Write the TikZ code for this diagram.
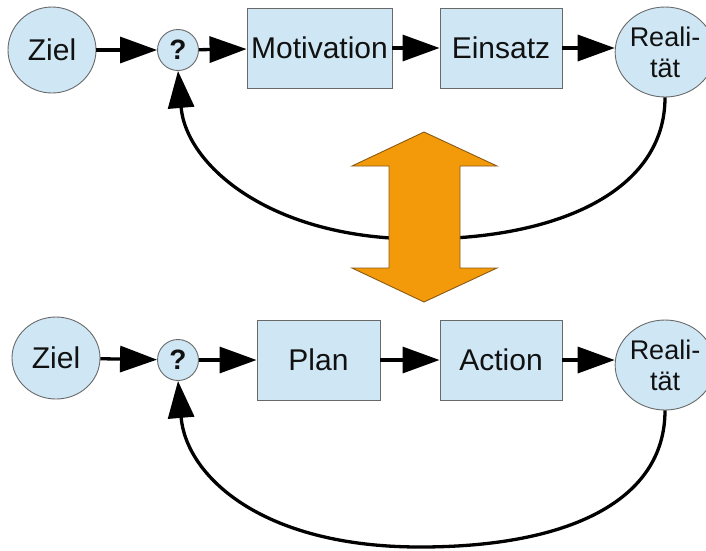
\documentclass[tikz,border=0pt]{standalone}
\usepackage{fontspec}
\setmainfont{Liberation Sans}
\usetikzlibrary{arrows.meta,shapes.geometric}
\definecolor{boxfill}{RGB}{207,231,245}
\definecolor{boxline}{RGB}{105,105,105}
\definecolor{orangefill}{RGB}{243,154,11}
\definecolor{orangeline}{RGB}{138,90,20}
\definecolor{inkblack}{RGB}{17,17,17}
\tikzset{
  x=1pt, y=-1pt,
  base/.style={fill=boxfill, draw=boxline, line width=0.9pt, text=inkblack, inner sep=0pt},
  oval/.style={base, ellipse},
  stepbox/.style={base, rectangle, minimum height=80pt},
  bigtxt/.style={font=\fontsize{30}{36}\selectfont},
  realtxt/.style={font=\fontsize{27}{31}\selectfont, align=center},
  qtxt/.style={font=\fontsize{28}{32}\selectfont\bfseries},
  flow/.style={line width=3.3pt, draw=black, -{Triangle[length=37pt,width=26pt]}},
}
\begin{document}
\begin{tikzpicture}
\useasboundingbox (0,0) rectangle (706,550);
% ---------- top row ----------
\node[oval, bigtxt, minimum width=88pt, minimum height=86pt] (z1) at (52,50) {Ziel};
\node[oval, qtxt, minimum width=41pt, minimum height=41pt] (q1) at (178,50) {?};
\node[stepbox, bigtxt, minimum width=145pt] (m1) at (319.5,48) {Motivation};
\node[stepbox, bigtxt, minimum width=122pt] (e1) at (501,48) {Einsatz};
\node[oval, realtxt, minimum width=87pt, minimum height=90pt] (r1) at (665,52) {Reali-\\tät};
\draw[flow] (z1) -- (q1);
\draw[flow] (q1) -- (m1);
\draw[flow] (m1) -- (e1);
\draw[flow] (e1.east) -- (r1.west |- e1.east);
\coordinate (b1) at (420,239);
\draw[flow] (r1.south) .. controls (665,190) and (560,239) .. (b1)
   .. controls (270,239) and (186,165) .. (q1.south);
% ---------- orange double arrow ----------
\fill[orangefill, draw=orangeline, line width=0.9pt, line join=miter]
  (424,132) -- (497,166) -- (460,166) -- (460,268) -- (497,268) -- (424,302)
  -- (352,268) -- (389,268) -- (389,166) -- (352,166) -- cycle;
% ---------- bottom row ----------
\node[oval, bigtxt, minimum width=88pt, minimum height=82pt] (z2) at (56,358) {Ziel};
\node[oval, qtxt, minimum width=41pt, minimum height=41pt] (q2) at (178,360) {?};
\node[stepbox, bigtxt, minimum width=123pt] (p2) at (318.5,360) {Plan};
\node[stepbox, bigtxt, minimum width=122pt] (a2) at (501,360) {Action};
\node[oval, realtxt, minimum width=87pt, minimum height=90pt] (r2) at (665,365) {Reali-\\tät};
\draw[flow] (z2) -- (q2);
\draw[flow] (q2) -- (p2);
\draw[flow] (p2) -- (a2);
\draw[flow] (a2.east) -- (r2.west |- a2.east);
\coordinate (b2) at (420,547);
\draw[flow] (r2.south) .. controls (665,500) and (570,547) .. (b2)
   .. controls (260,547) and (186,475) .. (q2.south);
\end{tikzpicture}
\end{document}
